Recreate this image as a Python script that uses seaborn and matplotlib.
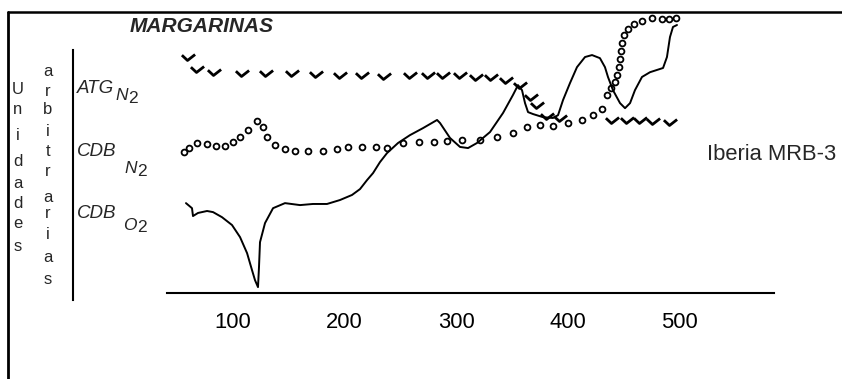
import numpy as np
import pandas as pd
import seaborn as sns
import matplotlib
matplotlib.use("Agg")
import matplotlib.pyplot as plt
from matplotlib.path import Path
from matplotlib.lines import Line2D

# Temperature axis (°C) and signals in arbitrary units
ATG_N2_T = [60, 68, 83, 108, 130, 153, 174, 196, 216, 235, 259, 275, 288, 304,
            318, 331, 345, 357, 367, 373, 382, 393, 440, 453, 465, 477, 492]
ATG_N2_Y = [84.0, 79.7, 78.6, 78.3, 78.3, 78.3, 77.9, 77.6, 77.6, 77.2, 77.6,
            77.6, 77.6, 77.6, 76.9, 76.9, 75.8, 74.0, 69.8, 66.9, 63.0, 62.3,
            61.6, 61.6, 61.6, 61.2, 60.9]

CDB_N2_T = [56, 60.5, 67.7, 76.7, 84.8, 92.8, 100, 106.3, 113.5, 121.5, 126.9,
            130.5, 137.7, 146.6, 155.6, 167.3, 180.7, 193.3, 203.1, 215.7,
            228.3, 238.1, 252.5, 266.8, 280.3, 291.9, 305.4, 321.5, 336.8,
            351.1, 363.7, 375.3, 387.0, 400.4, 413.0, 422.9, 431.0, 435.4,
            439.0, 442.6, 444.4, 446.2, 447.1, 448.0, 448.9, 450.7, 454.3,
            459.6, 466.8, 475.8, 484.8, 491.0, 497.3]
CDB_N2_Y = [50.2, 51.6, 53.4, 53.0, 52.3, 52.3, 53.7, 55.5, 58.0, 61.2, 59.1,
            55.5, 52.7, 51.2, 50.5, 50.5, 50.5, 51.2, 52.0, 52.0, 52.0, 51.6,
            53.4, 53.7, 53.7, 54.1, 54.4, 54.4, 55.5, 56.9, 59.1, 59.8, 59.4,
            60.5, 61.6, 63.3, 65.5, 70.5, 73.0, 75.1, 77.6, 80.4, 83.3, 86.1,
            89.0, 91.8, 94.0, 95.7, 96.8, 97.9, 97.5, 97.5, 97.9]

CDB_O2_T = [57.8, 63.2, 64.1, 68.6, 76.7, 82.1, 90.1, 99.1, 106.3, 112.6,
            117.0, 119.7, 122.4, 123.3, 124.2, 128.7, 135.9, 146.6, 160.1,
            171.7, 184.3, 195.9, 206.7, 213.9, 220.2, 225.6, 231.8, 238.1,
            248.0, 258.7, 270.4, 283.0, 285.7, 294.6, 303.6, 310.8, 318.8,
            330.5, 342.2, 351.1, 355.6, 359.2, 361.9, 364.6, 369.1, 378.0,
            387.0, 391.5, 396.0, 402.2, 408.5, 415.7, 422.0, 429.1, 433.6,
            436.3, 440.8, 447.1, 451.6, 456.1, 460.5, 466.8, 474.0, 485.7,
            489.2, 491.9, 494.6, 498.2]
CDB_O2_Y = [32.0, 30.2, 27.4, 28.5, 29.2, 28.8, 27.0, 24.2, 19.9, 14.2, 8.2,
            4.6, 2.1, 9.3, 18.1, 24.9, 30.2, 32.0, 31.3, 31.7, 31.7, 33.1,
            34.9, 37.0, 40.2, 42.7, 46.6, 49.8, 53.4, 56.2, 58.7, 61.6, 60.5,
            55.2, 52.0, 51.6, 53.4, 57.3, 64.1, 70.5, 74.0, 72.2, 67.6, 64.4,
            63.7, 62.6, 62.3, 63.3, 68.7, 74.7, 80.4, 84.0, 84.7, 83.6, 80.4,
            76.9, 72.2, 67.6, 65.8, 67.6, 72.2, 76.9, 78.6, 80.1, 84.0, 91.1,
            94.7, 95.4]

X_TICKS = [100, 200, 300, 400, 500]
TITLE = "MARGARINAS"
SAMPLE = "Iberia MRB-3"

sns.set_style("white")
plt.rcParams["font.family"] = ["Liberation Sans", "DejaVu Sans"]

W, H = 842, 379
fig = plt.figure(figsize=(W / 100, H / 100), dpi=100)
ax = fig.add_axes([0, 0, 1, 1])
ax.set_xlim(-109.0, 646.2)
ax.set_ylim(-30.6, 104.3)

def fx(px):
    return px / W

def fy(py):
    return 1 - py / H

atg = pd.DataFrame({"T": ATG_N2_T, "v": ATG_N2_Y})
n2 = pd.DataFrame({"T": CDB_N2_T, "v": CDB_N2_Y})
o2 = pd.DataFrame({"T": CDB_O2_T, "v": CDB_O2_Y})

# check-mark symbol for the thermogravimetric trace
check = Path([(-1.0, 0.35), (-0.15, -0.45), (1.0, 0.45)],
             [Path.MOVETO, Path.LINETO, Path.LINETO])

sns.lineplot(data=atg, x="T", y="v", ax=ax, sort=False, estimator=None,
             linestyle="none", marker=check, markersize=9.5,
             markerfacecolor="none", markeredgecolor="black",
             markeredgewidth=2.0, color="black")
sns.lineplot(data=n2, x="T", y="v", ax=ax, sort=False, estimator=None,
             linestyle="none", marker="o", markersize=4.2,
             markerfacecolor="white", markeredgecolor="black",
             markeredgewidth=1.3, color="black")
sns.lineplot(data=o2, x="T", y="v", ax=ax, sort=False, estimator=None,
             color="black", linewidth=1.4)

ax.set_xlabel("")
ax.set_ylabel("")
ax.spines["top"].set_visible(False)
ax.spines["right"].set_visible(False)
ax.spines["bottom"].set_position(("data", 0))
ax.spines["bottom"].set_bounds(41, 585)
ax.spines["bottom"].set_linewidth(1.5)
ax.spines["left"].set_position(("data", -43.5))
ax.spines["left"].set_bounds(-2.5, 86.5)
ax.spines["left"].set_linewidth(1.5)
for s in ("bottom", "left"):
    ax.spines[s].set_color("black")
ax.set_xticks(X_TICKS)
ax.set_xticklabels([str(t) for t in X_TICKS])
ax.set_yticks([])
ax.tick_params(axis="x", direction="out", length=10, width=1.5, pad=4,
               labelsize=15.8, colors="black")
ax.patch.set_alpha(0)

# outer frame (top and left edges)
fig.add_artist(Line2D([fx(8), 1], [fy(12), fy(12)], color="black", lw=1.8))
fig.add_artist(Line2D([fx(8), fx(8)], [fy(12), 0], color="black", lw=2.0))

fig.text(fx(202), fy(26), TITLE, ha="center", va="center", fontsize=15,
         fontstyle="italic", fontweight="bold")

def label(x0, base, head, x1, base1, sub, x2, base2):
    fig.text(fx(x0), fy(base), head, ha="left", va="baseline", fontsize=13.5,
             fontstyle="italic")
    fig.text(fx(x1), fy(base1), sub, ha="left", va="baseline", fontsize=12.5,
             fontstyle="italic")
    fig.text(fx(x2), fy(base2), "2", ha="left", va="baseline", fontsize=12.5)

label(77, 93, "ATG", 115, 100, "N", 128, 103)
label(77, 156, "CDB", 124, 173, "N", 137, 176)
label(77, 218, "CDB", 123, 230, "O", 137, 232)

fig.text(fx(707), fy(155), SAMPLE, ha="left", va="center", fontsize=15.8)

col1 = "Unidades"
col1_y = [89, 110, 136, 162, 183, 203, 224, 246]
for ch, py in zip(col1, col1_y):
    fig.text(fx(18), fy(py), ch, ha="center", va="center", fontsize=12)
col2 = "arbitrarias"
col2_y = [72, 91, 109, 132, 152, 171, 197, 213, 234, 258, 280]
for ch, py in zip(col2, col2_y):
    fig.text(fx(48), fy(py), ch, ha="center", va="center", fontsize=12)

fig.savefig("out.png", dpi=100)
